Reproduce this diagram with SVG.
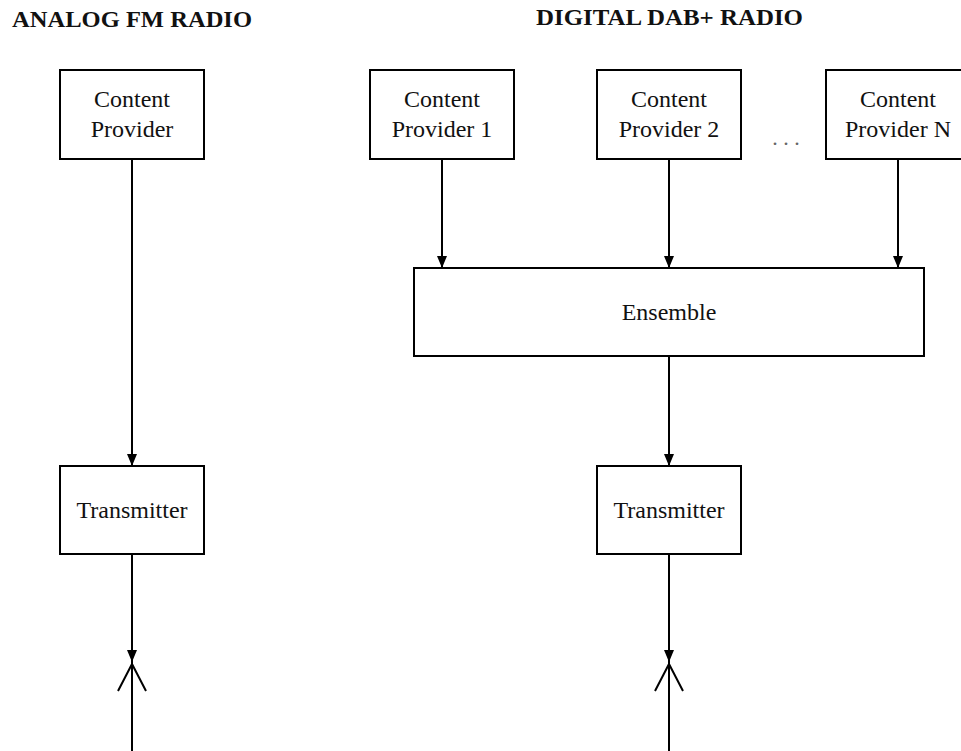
<svg xmlns="http://www.w3.org/2000/svg" width="961" height="751" viewBox="0 0 961 751">
<style>
.box{fill:#fff;stroke:#000;stroke-width:2}
.lbl{font-family:"Liberation Serif","Times New Roman",serif;font-size:24px;fill:#111;text-anchor:middle}
.title{font-family:"Liberation Serif","Times New Roman",serif;font-size:24px;font-weight:bold;fill:#111}
.wire{stroke:#000;stroke-width:2;fill:none}
</style>
<defs>
<marker id="arr" markerUnits="userSpaceOnUse" markerWidth="12" markerHeight="10" refX="12" refY="5" orient="auto">
<path d="M0,0 L12,5 L0,10 z" fill="#000"/>
</marker>
</defs>
<rect width="961" height="751" fill="#fff"/>
<text class="title" x="12" y="27" textLength="240" lengthAdjust="spacingAndGlyphs">ANALOG FM RADIO</text>
<text class="title" x="536" y="25" textLength="267" lengthAdjust="spacingAndGlyphs">DIGITAL DAB+ RADIO</text>

<g id="connectors">
<line class="wire" x1="132" y1="159" x2="132" y2="466" marker-end="url(#arr)"/>
<line class="wire" x1="132" y1="554" x2="132" y2="662" marker-end="url(#arr)"/>
<line class="wire" x1="442" y1="159" x2="442" y2="268" marker-end="url(#arr)"/>
<line class="wire" x1="669" y1="159" x2="669" y2="268" marker-end="url(#arr)"/>
<line class="wire" x1="898" y1="159" x2="898" y2="268" marker-end="url(#arr)"/>
<line class="wire" x1="669" y1="356" x2="669" y2="466" marker-end="url(#arr)"/>
<line class="wire" x1="669" y1="554" x2="669" y2="662" marker-end="url(#arr)"/>
</g>

<g id="antenna-fm">
<path class="wire" d="M132,662 V751 M118,691 L132,664 L146,691"/>
</g>
<g id="antenna-dab">
<path class="wire" d="M669,662 V751 M655,691 L669,664 L683,691"/>
</g>

<g id="fm-provider">
<rect class="box" x="60" y="70" width="144" height="89"/>
<text class="lbl" x="132" y="107">Content</text>
<text class="lbl" x="132" y="137">Provider</text>
</g>
<g id="fm-transmitter">
<rect class="box" x="60" y="466" width="144" height="88"/>
<text class="lbl" x="132" y="518">Transmitter</text>
</g>

<g id="dab-provider-1">
<rect class="box" x="370" y="70" width="144" height="89"/>
<text class="lbl" x="442" y="107">Content</text>
<text class="lbl" x="442" y="137">Provider 1</text>
</g>
<g id="dab-provider-2">
<rect class="box" x="597" y="70" width="144" height="89"/>
<text class="lbl" x="669" y="107">Content</text>
<text class="lbl" x="669" y="137">Provider 2</text>
</g>
<g id="dots">
<text x="786" y="145" style="font-family:'Liberation Serif',serif;font-size:22px;fill:#666;text-anchor:middle">. . .</text>
</g>
<g id="dab-provider-n">
<rect class="box" x="826" y="70" width="144" height="89"/>
<text class="lbl" x="898" y="107">Content</text>
<text class="lbl" x="898" y="137">Provider N</text>
</g>
<g id="ensemble">
<rect class="box" x="414" y="268" width="510" height="88"/>
<text class="lbl" x="669" y="320">Ensemble</text>
</g>
<g id="dab-transmitter">
<rect class="box" x="597" y="466" width="144" height="88"/>
<text class="lbl" x="669" y="518">Transmitter</text>
</g>
</svg>
